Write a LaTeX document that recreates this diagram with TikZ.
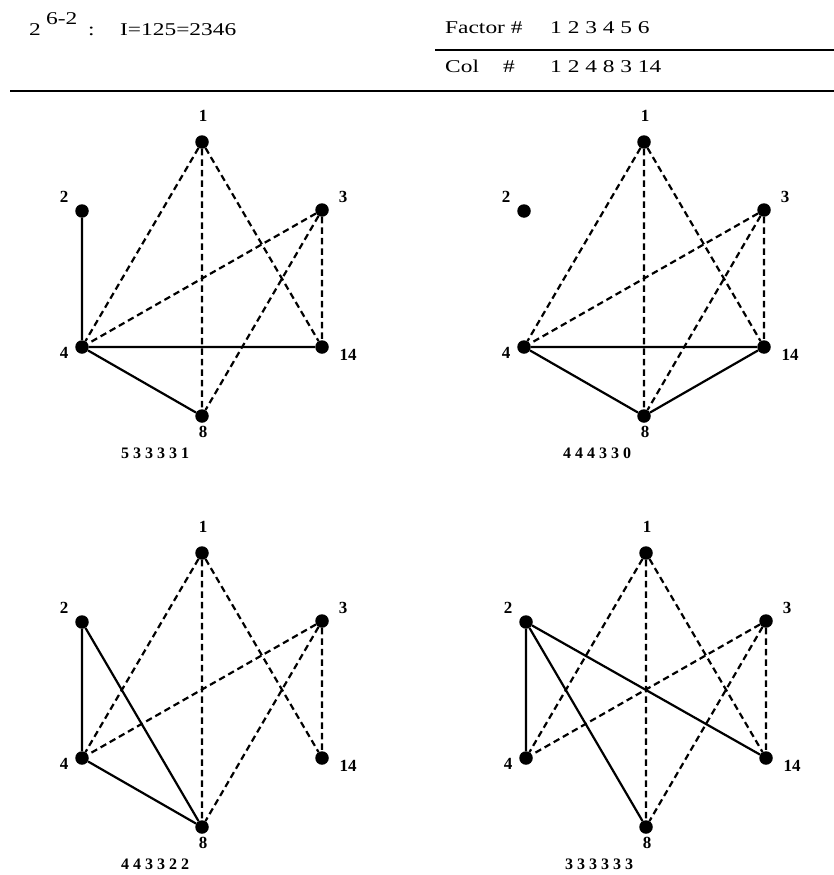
\documentclass[tikz,border=0pt]{standalone}
\usepackage{fontspec}
\usepackage{graphicx}
\setmainfont{Liberation Serif}
\newcommand\sx[1]{\scalebox{1.3}[1]{#1}}
\newcommand\mkgraph[4]{%
 \begin{scope}[shift={(#2,#3)}]
  \node[dot] (#1a) at (0,0) {};
  \node[dot] (#1b) at (-120,69) {};
  \node[dot] (#1c) at (120,68) {};
  \node[dot] (#1d) at (-120,205) {};
  \node[dot] (#1e) at (120,205) {};
  \node[dot] (#1f) at (0,274) {};
  \node[lbl] (#1la) at (1,-26) {1};
  \node[lbl] (#1lb) at (-138,55) {2};
  \node[lbl] (#1lc) at (141,55) {3};
  \node[lbl] (#1ld) at (-138,211) {4};
  \node[lbl] (#1le) at (146,213) {14};
  \node[lbl] (#1lf) at (1,290) {8};
  \node[cnt] (#1cnt) at (-47,311) {#4};
  \draw[dsh] (#1a)--(#1d) (#1a)--(#1f) (#1a)--(#1e)
             (#1c)--(#1d) (#1c)--(#1f) (#1c)--(#1e);
 \end{scope}}
\begin{document}
\begin{tikzpicture}[x=1pt,y=-1pt,
  dot/.style={circle,fill=black,inner sep=0pt,minimum size=13.5pt},
  lbl/.style={font=\fontsize{17}{17}\selectfont\bfseries,inner sep=0pt},
  hdr/.style={font=\fontsize{18}{18}\selectfont,inner sep=0pt,anchor=base west},
  cnt/.style={font=\fontsize{16}{16}\selectfont\bfseries,inner sep=0pt},
  sol/.style={line width=2.2pt},
  dsh/.style={line width=2.2pt,dash pattern=on 6.5pt off 4pt},
  rule/.style={line width=2.2pt}]
\useasboundingbox (0,0) rectangle (834,875);
% header
\node[hdr] (h2) at (29,36) {\sx{2}};
\node[hdr] (hexp) at (46,25) {\sx{6-2}};
\node[hdr] (hcolon) at (88,36) {\sx{:}};
\node[hdr] (hI) at (120,36) {\sx{I=125=2346}};
\node[hdr] (hfac) at (445,34) {\sx{Factor \#}};
\node[hdr] (hfacn) at (550,34) {\sx{1 2 3 4 5 6}};
\node[hdr] (hcol) at (445,73) {\sx{Col}};
\node[hdr] (hhash) at (503,73) {\sx{\#}};
\node[hdr] (hcoln) at (550,73) {\sx{1 2 4 8 3 14}};
\draw[rule] (435,50) -- (834,50);
\draw[rule] (10,91) -- (834,91);
% graphs
\mkgraph{A}{202}{142}{5 3 3 3 3 1}
\draw[sol] (Ab)--(Ad) (Ad)--(Ae) (Ad)--(Af);
\mkgraph{B}{644}{142}{4 4 4 3 3 0}
\draw[sol] (Bd)--(Be) (Bd)--(Bf) (Bf)--(Be);
\mkgraph{C}{202}{553}{4 4 3 3 2 2}
\draw[sol] (Cb)--(Cd) (Cb)--(Cf) (Cd)--(Cf);
\mkgraph{D}{646}{553}{3 3 3 3 3 3}
\draw[sol] (Db)--(Dd) (Db)--(Df) (Db)--(De);
\end{tikzpicture}
\end{document}
